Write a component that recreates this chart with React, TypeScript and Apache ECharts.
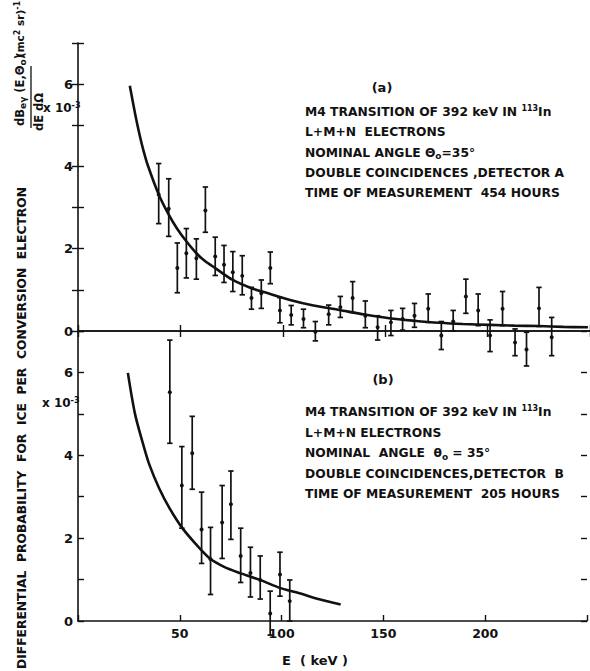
import React, { useEffect, useRef } from "react";
import * as echarts from "echarts";

// ---- data ----
// Panel (a): detector A
const topE = [39.4, 44.3, 48.5, 52.9, 57.8, 62.2, 67.0, 71.3, 75.6, 80.2, 84.7, 89.5, 93.9, 98.6, 104.1, 110.1, 115.9, 122.4, 128.1, 134.1, 140.3, 146.3, 152.8, 158.5, 164.3, 171.0, 177.4, 183.2, 189.4, 195.4, 201.2, 207.3, 213.4, 219.0, 225.1, 231.3];
const topY = [3.32, 2.97, 1.53, 1.89, 1.77, 2.93, 1.81, 1.61, 1.43, 1.34, 0.80, 0.92, 1.53, 0.50, 0.39, 0.29, -0.02, 0.41, 0.58, 0.80, 0.37, 0.09, 0.21, 0.29, 0.37, 0.54, -0.11, 0.23, 0.84, 0.50, -0.11, 0.54, -0.28, -0.45, 0.55, -0.15];
const topHi = [4.07, 3.70, 2.14, 2.49, 2.24, 3.50, 2.28, 2.08, 1.93, 1.83, 1.06, 1.24, 1.92, 0.81, 0.62, 0.53, 0.23, 0.63, 0.84, 1.20, 0.73, 0.37, 0.50, 0.55, 0.67, 0.90, 0.23, 0.50, 1.26, 0.90, 0.27, 0.96, 0.05, -0.03, 1.06, 0.33];
const topLo = [2.61, 2.30, 0.93, 1.29, 1.26, 2.40, 1.35, 1.18, 0.96, 0.88, 0.53, 0.55, 1.15, 0.20, 0.15, 0.08, -0.24, 0.15, 0.33, 0.45, 0.08, -0.22, -0.11, 0.02, 0.09, 0.21, -0.45, 0.00, 0.43, 0.13, -0.50, 0.13, -0.60, -0.85, 0.11, -0.60];
const topCurveE = [25.3, 28, 30.2, 32, 34.2, 39.4, 44.3, 48.5, 52.9, 57.8, 62, 67, 75.6, 84.7, 93.9, 104, 115, 127.6, 140, 152, 164, 176.4, 188, 200.8, 213, 225, 237, 249];
const topCurveY = [5.96, 5.25, 4.74, 4.38, 4.01, 3.32, 2.83, 2.48, 2.18, 1.89, 1.70, 1.53, 1.24, 1.04, 0.90, 0.75, 0.62, 0.51, 0.40, 0.31, 0.25, 0.20, 0.17, 0.15, 0.13, 0.12, 0.10, 0.09];

// Panel (b): detector B
const botE = [45.1, 51.0, 56.1, 60.7, 65.1, 70.8, 75.1, 79.9, 84.7, 89.5, 94.4, 99.2, 104.0];
const botY = [5.52, 3.27, 4.05, 2.21, 1.49, 2.38, 2.82, 1.57, 1.16, 0.99, 0.18, 1.12, 0.48];
const botHi = [6.78, 4.21, 4.94, 3.11, 2.26, 3.27, 3.62, 2.24, 1.78, 1.57, 0.72, 1.66, 0.99];
const botLo = [4.29, 2.24, 3.18, 1.39, 0.64, 1.51, 1.97, 0.93, 0.58, 0.53, -0.34, 0.60, 0.00];
const botCurveE = [24.5, 28, 31.8, 35, 39.9, 45, 51, 58, 65, 72, 80, 90, 99, 108, 118, 129];
const botCurveY = [5.99, 5.0, 4.3, 3.78, 3.2, 2.72, 2.26, 1.85, 1.50, 1.30, 1.15, 0.98, 0.80, 0.68, 0.53, 0.40];

const xTickLabels = ["50", "100", "150", "200"];
const yTickLabels = ["0", "2", "4", "6"];

const textA = [
  "M4 TRANSITION OF 392 keV IN {sup|113}In",
  "L+M+N  ELECTRONS",
  "NOMINAL ANGLE Θ{sub|o}=35°",
  "DOUBLE COINCIDENCES ,DETECTOR A",
  "TIME OF MEASUREMENT  454 HOURS",
];
const textB = [
  "M4 TRANSITION OF 392 keV IN {sup|113}In",
  "L+M+N ELECTRONS",
  "NOMINAL  ANGLE  θ{sub|o} = 35°",
  "DOUBLE COINCIDENCES,DETECTOR  B",
  "TIME OF MEASUREMENT  205 HOURS",
];
const yTitle = "DIFFERENTIAL  PROBABILITY  FOR  ICE  PER  CONVERSION  ELECTRON";
const xTitle = "E  ( keV )";

const FONT = "DejaVu Sans";
const INK = "#111";

const rich = {
  sup: { fontSize: 8, fontWeight: "bold", verticalAlign: "top", lineHeight: 8, fontFamily: FONT, fill: INK },
  sub: { fontSize: 9, fontWeight: "bold", verticalAlign: "bottom", lineHeight: 9, fontFamily: FONT, fill: INK },
};

function panelText(lines: string[], label: string, labelX: number, labelY: number, x0: number, y0: number, dy: number) {
  const els: any[] = [
    {
      type: "text",
      x: labelX,
      y: labelY,
      style: { text: label, fontSize: 13, fontWeight: "bold", fontFamily: FONT, fill: INK, align: "center", verticalAlign: "middle" },
    },
  ];
  lines.forEach((t, i) => {
    els.push({
      type: "text",
      x: x0,
      y: y0 + i * dy,
      style: {
        text: t,
        fontSize: 12.3,
        fontWeight: "bold",
        lineHeight: 16,
        fontFamily: FONT,
        fill: INK,
        align: "left",
        verticalAlign: "middle",
        rich,
      },
    });
  });
  return els;
}

function errorRender(params: any, api: any) {
  const x = api.value(0);
  const y = api.value(1);
  const lo = api.value(2);
  const hi = api.value(3);
  const pc = api.coord([x, y]);
  const pl = api.coord([x, lo]);
  const ph = api.coord([x, hi]);
  const cw = 2.7;
  const st = { stroke: INK, lineWidth: 1.7 };
  return {
    type: "group",
    children: [
      { type: "line", shape: { x1: pl[0], y1: pl[1], x2: ph[0], y2: ph[1] }, style: st },
      { type: "line", shape: { x1: ph[0] - cw, y1: ph[1], x2: ph[0] + cw, y2: ph[1] }, style: st },
      { type: "line", shape: { x1: pl[0] - cw, y1: pl[1], x2: pl[0] + cw, y2: pl[1] }, style: st },
      { type: "circle", shape: { cx: pc[0], cy: pc[1], r: 2 }, style: { fill: INK } },
    ],
  };
}

export default function App() {
  const ref = useRef<HTMLDivElement>(null);
  useEffect(() => {
    if (!ref.current) return;
    const chart = echarts.init(ref.current, null, { renderer: "svg" });

    const axisLine = { show: true, lineStyle: { color: INK, width: 1.6 } };
    const tickIn = { show: true, inside: true, length: 6, lineStyle: { color: INK, width: 1.4 } };
    const xLabelFmt = (v: number) => (xTickLabels.includes(String(v)) ? String(v) : "");
    const yLabelFmt = (v: number) => (yTickLabels.includes(String(v)) ? String(v) : "");

    const xBase = { type: "value", min: 0, max: 250, interval: 50, splitLine: { show: false }, axisLine, axisTick: tickIn };
    const yBase = { type: "value", min: 0, max: 7, interval: 1, splitLine: { show: false }, axisLine, axisTick: tickIn };

    const tickLabelStyle = { color: INK, fontFamily: FONT, fontWeight: "bold", fontSize: 13 };

    chart.setOption({
      animation: false,
      backgroundColor: "#fff",
      grid: [
        { left: 78, top: 43, width: 513, height: 288 },
        { left: 78, top: 331, width: 513, height: 290 },
      ],
      xAxis: [
        { ...xBase, gridIndex: 0, position: "bottom", axisLabel: { show: false } },
        { ...xBase, gridIndex: 0, position: "top", axisLabel: { show: false } },
        { ...xBase, gridIndex: 1, position: "bottom", axisLabel: { ...tickLabelStyle, fontSize: 12.5, margin: 6, formatter: xLabelFmt } },
      ],
      yAxis: [
        { ...yBase, gridIndex: 0, position: "left", axisLabel: { ...tickLabelStyle, margin: 5, formatter: yLabelFmt } },
        { ...yBase, gridIndex: 0, position: "right", axisLine: { show: false }, axisLabel: { show: false } },
        { ...yBase, gridIndex: 1, position: "left", axisLabel: { ...tickLabelStyle, margin: 5, formatter: yLabelFmt } },
        { ...yBase, gridIndex: 1, position: "right", axisLine: { show: false }, axisLabel: { show: false } },
      ],
      series: [
        {
          type: "line",
          xAxisIndex: 0,
          yAxisIndex: 0,
          data: topCurveE.map((e, i) => [e, topCurveY[i]]),
          smooth: 0.3,
          showSymbol: false,
          lineStyle: { color: INK, width: 2.6 },
        },
        {
          type: "custom",
          xAxisIndex: 0,
          yAxisIndex: 0,
          clip: false,
          renderItem: errorRender,
          encode: { x: 0, y: 1 },
          data: topE.map((e, i) => [e, topY[i], topLo[i], topHi[i]]),
        },
        {
          type: "line",
          xAxisIndex: 2,
          yAxisIndex: 2,
          data: botCurveE.map((e, i) => [e, botCurveY[i]]),
          smooth: 0.3,
          showSymbol: false,
          lineStyle: { color: INK, width: 2.6 },
        },
        {
          type: "custom",
          xAxisIndex: 2,
          yAxisIndex: 2,
          clip: false,
          renderItem: errorRender,
          encode: { x: 0, y: 1 },
          data: botE.map((e, i) => [e, botY[i], botLo[i], botHi[i]]),
        },
      ],
      graphic: [
        ...panelText(textA, "(a)", 382, 87, 305, 112, 20.3),
        ...panelText(textB, "(b)", 383, 379, 305, 412, 20.5),
        // x-axis title
        {
          type: "text",
          x: 315,
          y: 660,
          style: { text: xTitle, fontSize: 13, fontWeight: "bold", fontFamily: FONT, fill: INK, align: "center", verticalAlign: "middle" },
        },
        // main y title
        {
          type: "text",
          x: 22,
          y: 428,
          rotation: Math.PI / 2,
          style: { text: yTitle, fontSize: 12.3, fontWeight: "bold", fontFamily: FONT, fill: INK, align: "center", verticalAlign: "middle" },
        },
        // fraction numerator
        {
          type: "text",
          x: 20,
          y: 90,
          rotation: Math.PI / 2,
          style: { text: "dB{sub|eγ} (E,Θ{sub|o})", fontSize: 11.5, lineHeight: 14, fontFamily: FONT, fontWeight: "bold", fill: INK, align: "center", verticalAlign: "middle", rich },
        },
        // fraction bar
        {
          type: "line",
          shape: { x1: 31, y1: 128, x2: 31, y2: 66 },
          style: { stroke: INK, lineWidth: 1.3 },
        },
        // denominator
        {
          type: "text",
          x: 39,
          y: 112,
          rotation: Math.PI / 2,
          style: { text: "dE dΩ", fontSize: 11.5, fontFamily: FONT, fontWeight: "bold", fill: INK, align: "center", verticalAlign: "middle" },
        },
        // units
        {
          type: "text",
          x: 20,
          y: 29,
          rotation: Math.PI / 2,
          style: { text: "(mc{sup|2} sr){sup|-1}", fontSize: 10.5, lineHeight: 14, fontFamily: FONT, fontWeight: "bold", fill: INK, align: "center", verticalAlign: "middle", rich },
        },
        // x 10^-3 (top)
        {
          type: "text",
          x: 43,
          y: 108,
          style: { text: "x 10{sup|-3}", fontSize: 12, fontWeight: "bold", lineHeight: 14, fontFamily: FONT, fill: INK, align: "left", verticalAlign: "middle", rich },
        },
        // x 10^-3 (bottom)
        {
          type: "text",
          x: 42,
          y: 403,
          style: { text: "x 10{sup|-3}", fontSize: 12, fontWeight: "bold", lineHeight: 14, fontFamily: FONT, fill: INK, align: "left", verticalAlign: "middle", rich },
        },
      ],
    });
    return () => chart.dispose();
  }, []);
  return <div ref={ref} style={{ position: "fixed", left: 0, top: 0, width: 590, height: 671, background: "#fff" }} />;
}
